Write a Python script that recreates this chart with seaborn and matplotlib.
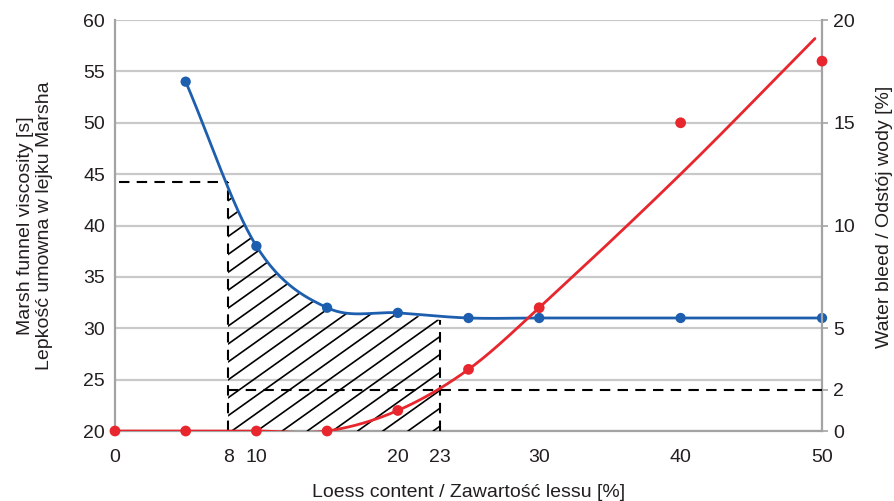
import numpy as np
import pandas as pd
import seaborn as sns
import matplotlib.pyplot as plt
from matplotlib.patches import Polygon

# measured points
loess = [5, 10, 15, 20, 25, 30, 40, 50]
viscosity = [54, 38, 32, 31.5, 31, 31, 31, 31]

bleed_x = [0, 5, 10, 15, 20, 25, 30, 40, 50]
bleed = [0, 0, 0, 0, 1, 3, 6, 15, 18]

# fitted bleed trend
fit_x = [0, 10, 15, 20, 25, 30, 40, 49.5]
fit_y = [0, 0, 0, 1, 3, 6, 12.5, 19.1]

# marked range
lo_mark, hi_mark = 8, 23
visc_at_lo = 44.2
visc_at_hi = 30.8
bleed_limit = 2

xtick_vals = [0, 8, 10, 20, 23, 30, 40, 50]
left_ticks = [20, 25, 30, 35, 40, 45, 50, 55, 60]
right_ticks = [0, 2, 5, 10, 15, 20]

BLUE = '#1d5fae'
RED = '#e8262d'
GRID = '#c9c9c9'
SPINE = '#a3a3a3'
TXT = '#231f20'
FS = 14


def smooth(x, y, n=30):
    # cubic hermite with centred slopes, like a spreadsheet "smoothed line"
    x = np.asarray(x, float)
    y = np.asarray(y, float)
    m = np.zeros_like(y)
    m[1:-1] = (y[2:] - y[:-2]) / (x[2:] - x[:-2])
    m[0] = (y[1] - y[0]) / (x[1] - x[0])
    m[-1] = (y[-1] - y[-2]) / (x[-1] - x[-2])
    xs, ys = [], []
    for i in range(len(x) - 1):
        h = x[i + 1] - x[i]
        t = np.linspace(0, 1, n, endpoint=False)
        h00 = 2 * t**3 - 3 * t**2 + 1
        h10 = t**3 - 2 * t**2 + t
        h01 = -2 * t**3 + 3 * t**2
        h11 = t**3 - t**2
        xs.append(x[i] + t * h)
        ys.append(h00 * y[i] + h10 * h * m[i] + h01 * y[i + 1] + h11 * h * m[i + 1])
    xs.append([x[-1]])
    ys.append([y[-1]])
    return np.concatenate(xs), np.concatenate(ys)


sns.set_style('white')
plt.rcParams['font.family'] = ['Liberation Sans', 'DejaVu Sans']

fig = plt.figure(figsize=(8.94, 5.01), dpi=100)
ax = fig.add_axes([0.1286, 0.1397, 0.7909, 0.8203])
ax2 = ax.twinx()

ax.set_xlim(0, 50)
ax.set_ylim(20, 60)
ax2.set_ylim(0, 20)

# blue viscosity curve
bx, by = smooth(loess, viscosity)
blue_df = pd.DataFrame({'x': bx, 'y': by})
sns.lineplot(data=blue_df, x='x', y='y', sort=False, color=BLUE, lw=2, ax=ax, zorder=4)
sns.scatterplot(x=loess, y=viscosity, color=BLUE, s=55, edgecolor='none', ax=ax,
                zorder=5, clip_on=False)

# hatched area under curve between the marks
sel = (bx > lo_mark) & (bx <= 20)
top_x = np.concatenate([[lo_mark], bx[sel], [hi_mark]])
top_y = np.concatenate([[visc_at_lo], by[sel], [visc_at_hi]])
verts = np.column_stack([np.concatenate([top_x, [hi_mark, lo_mark]]),
                         np.concatenate([top_y, [20, 20]])])
clip = Polygon(verts, closed=True, fill=False, edgecolor='none', transform=ax.transData)
ax.add_patch(clip)
for x0 in np.arange(lo_mark - 30, hi_mark + 1, 1.78):
    ln, = ax.plot([x0, x0 + 40], [20, 20 + 40 * 0.98], color='black', lw=1.2, zorder=3)
    ln.set_clip_path(clip)

# dashed guides
dash = dict(color='black', lw=1.5, ls=(0, (5, 3.5)), zorder=3)
ax.plot([0.3, lo_mark], [visc_at_lo, visc_at_lo], **dash)
ax.plot([lo_mark, lo_mark], [20, visc_at_lo], **dash)
ax.plot([hi_mark, hi_mark], [20, visc_at_hi], **dash)
ax2.plot([lo_mark, 50], [bleed_limit, bleed_limit], **dash)

# red bleed curve
rx, ry = smooth(fit_x, fit_y)
red_df = pd.DataFrame({'x': rx, 'y': ry})
sns.lineplot(data=red_df, x='x', y='y', sort=False, color=RED, lw=2, ax=ax2, zorder=4)
sns.scatterplot(x=bleed_x, y=bleed, color=RED, s=60, edgecolor='none', ax=ax2,
                zorder=5, clip_on=False)

# grid and ticks
ax.set_yticks(left_ticks)
ax.set_xticks(xtick_vals)
ax.set_xticks([0, 10, 20, 30, 40, 50], minor=True)
ax.grid(axis='y', which='major', color=GRID, lw=1.6)
ax.grid(axis='x', which='minor', color=GRID, lw=1.6)
ax.grid(axis='x', which='major', visible=False)
ax.set_axisbelow(True)
ax2.set_yticks(right_ticks)
ax2.grid(False)

ax.tick_params(axis='y', length=0, pad=7, labelsize=FS, labelcolor=TXT)
ax.tick_params(axis='x', which='both', length=0, pad=13, labelsize=FS, labelcolor=TXT)
ax2.tick_params(axis='y', length=4, width=1.2, color=SPINE, pad=4, labelsize=FS, labelcolor=TXT)

ax.spines['top'].set_visible(False)
ax2.spines['top'].set_visible(False)
ax2.spines['left'].set_visible(False)
ax2.spines['bottom'].set_visible(False)
ax.spines['right'].set_visible(False)
for s in ['left', 'bottom']:
    ax.spines[s].set_color(SPINE)
    ax.spines[s].set_linewidth(1.6)
ax2.spines['right'].set_color(SPINE)
ax2.spines['right'].set_linewidth(1.6)

ax.set_xlabel('Loess content / Zawartość lessu [%]', fontsize=FS, color=TXT)
ax.xaxis.set_label_coords(0.5, -0.128)
ax.set_ylabel('Marsh funnel viscosity [s]\nLepkość umowna w lejku Marsha',
              fontsize=FS, color=TXT, linespacing=1.1)
ax.yaxis.set_label_coords(-0.088, 0.5)
ax2.set_ylabel('Water bleed / Odstój wody [%]', fontsize=FS, color=TXT)
ax2.yaxis.set_label_coords(1.077, 0.52)

fig.savefig('out.png', dpi=100)
